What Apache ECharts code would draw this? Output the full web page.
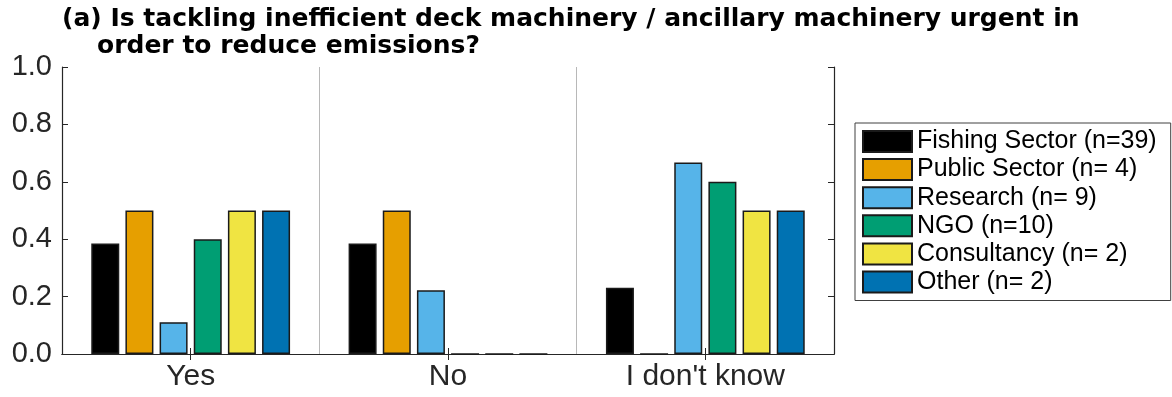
<!DOCTYPE html>
<html>
<head>
<meta charset="utf-8">
<script src="https://cdn.jsdelivr.net/npm/echarts@6/dist/echarts.min.js"></script>
<style>
  html, body { margin: 0; padding: 0; background: #fff; }
  #chart { width: 1172px; height: 397px; }
</style>
</head>
<body>
<div id="chart"></div>
<script>
// answer categories on the x axis
var categories = ['Yes', 'No', "I don't know"];

// share of respondents per group
var groupNames = [
    'Fishing Sector (n=39)',
    'Public Sector (n= 4)',
    'Research (n= 9)',
    'NGO (n=10)',
    'Consultancy (n= 2)',
    'Other (n= 2)'
];
var fishing = [0.385, 0.385, 0.231];
var publicSector = [0.5, 0.5, 0];
var research = [0.111, 0.222, 0.667];
var ngo = [0.4, 0, 0.6];
var consultancy = [0.5, 0, 0.5];
var other = [0.5, 0, 0.5];

var yTicks = [0, 0.2, 0.4, 0.6, 0.8, 1.0];

var groupValues = [fishing, publicSector, research, ngo, consultancy, other];
var groupColors = ['#000000', '#E69F00', '#56B4E9', '#009E73', '#F0E442', '#0072B2'];

var axisColor = '#262626';
var fontFamily = '"Liberation Sans", Arial, Helvetica, sans-serif';
var titleFont = '"DejaVu Sans", "Liberation Sans", sans-serif';

var chart = echarts.init(document.getElementById('chart'));

var series = groupNames.map(function(name, i) {
    return {
        name: name,
        type: 'bar',
        data: groupValues[i],
        barWidth: 28,
        barGap: '22%',
        itemStyle: {
            color: groupColors[i],
            borderColor: '#1a1a1a',
            borderWidth: 1.5
        },
        emphasis: { disabled: true }
    };
});

var option = {
    animation: false,
    textStyle: { fontFamily: fontFamily },
    title: [
        {
            text: '(a) Is tackling inefficient deck machinery / ancillary machinery urgent in',
            left: 62,
            top: 7,
            padding: 0,
            textStyle: { fontSize: 25, fontWeight: 'bold', color: '#000', fontFamily: titleFont }
        },
        {
            text: 'order to reduce emissions?',
            left: 97,
            top: 34,
            padding: 0,
            textStyle: { fontSize: 25, fontWeight: 'bold', color: '#000', fontFamily: titleFont }
        }
    ],
    legend: {
        orient: 'vertical',
        left: 855,
        top: 123,
        padding: [6, 14, 6, 7],
        icon: 'rect',
        itemWidth: 49,
        itemHeight: 21,
        itemGap: 3.1,
        borderColor: '#404040',
        borderWidth: 1,
        backgroundColor: '#fff',
        selectedMode: false,
        data: groupNames,
        textStyle: { fontSize: 25, color: '#000', lineHeight: 21, fontFamily: fontFamily }
    },
    grid: {
        left: 62,
        right: 338,
        top: 67,
        bottom: 43
    },
    xAxis: [
        {
            type: 'category',
            data: categories,
            axisLine: { lineStyle: { color: axisColor, width: 1.2 } },
            axisTick: { show: true, inside: true, alignWithLabel: true, length: 6, lineStyle: { color: axisColor } },
            axisLabel: { fontSize: 30, color: axisColor, margin: 8 },
            splitLine: { show: true, lineStyle: { color: '#b8b8b8', width: 1 } }
        },
        {
            type: 'category',
            position: 'top',
            data: categories,
            axisLine: { lineStyle: { color: axisColor, width: 1.2 } },
            axisTick: { show: true, inside: true, alignWithLabel: true, length: 6, lineStyle: { color: axisColor } },
            axisLabel: { show: false }
        }
    ],
    yAxis: [
        {
            type: 'value',
            min: yTicks[0],
            max: yTicks[yTicks.length - 1],
            interval: 0.2,
            axisLine: { show: true, lineStyle: { color: axisColor, width: 1.2 } },
            axisTick: { show: true, inside: true, length: 6, lineStyle: { color: axisColor } },
            axisLabel: {
                fontSize: 29,
                color: axisColor,
                margin: 10,
                formatter: function(v) { return v.toFixed(1); }
            },
            splitLine: { show: false }
        },
        {
            type: 'value',
            position: 'right',
            min: yTicks[0],
            max: yTicks[yTicks.length - 1],
            interval: 0.2,
            axisLine: { show: true, lineStyle: { color: axisColor, width: 1.2 } },
            axisTick: { show: true, inside: true, length: 6, lineStyle: { color: axisColor } },
            axisLabel: { show: false },
            splitLine: { show: false }
        }
    ],
    series: series
};

chart.setOption(option);

window.addEventListener('resize', function() {
    chart.resize();
});
</script>
</body>
</html>
